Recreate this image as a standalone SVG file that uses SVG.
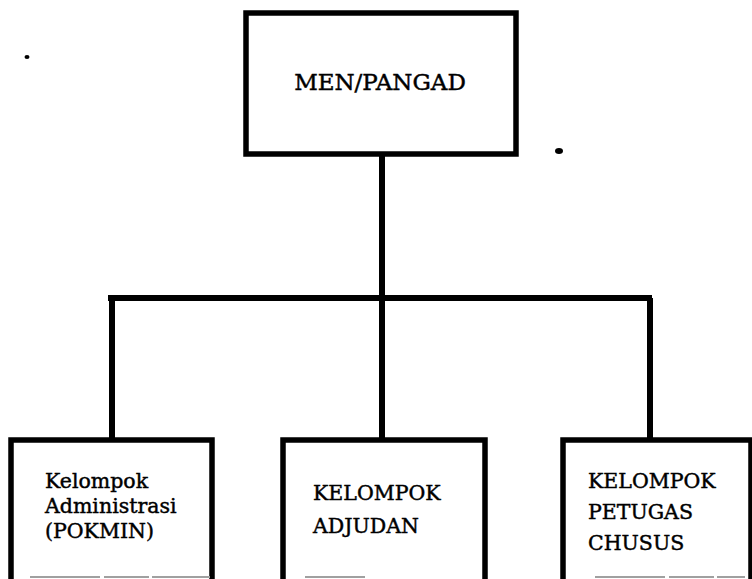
<svg xmlns="http://www.w3.org/2000/svg" width="752" height="579" viewBox="0 0 752 579">
  <style>
    .frame { fill: none; stroke: #000; stroke-width: 5.5; stroke-linejoin: miter; stroke-linecap: square; }
    .wire { fill: none; stroke: #000; stroke-width: 6; stroke-linecap: butt; }
    .edge { fill: none; stroke: #a0a0a0; stroke-width: 2; stroke-dasharray: 70 4 45 3; }
    .lbl { font-family: "DejaVu Serif", "Liberation Serif", serif; fill: #000; stroke: #000; stroke-width: 0.45; }
    .top { font-size: 23px; text-anchor: middle; }
    .sub { font-size: 20.5px; }
  </style>
  <rect width="752" height="579" fill="#fff"/>

  <!-- stray print marks -->
  <ellipse cx="27" cy="57" rx="2.5" ry="2" fill="#000"/>
  <ellipse cx="559" cy="151" rx="4" ry="3" fill="#000"/>

  <!-- connectors -->
  <g id="connectors">
    <line class="wire" x1="382" y1="154" x2="382" y2="440"/>
    <line class="wire" x1="108" y1="298" x2="652" y2="298"/>
    <line class="wire" x1="112" y1="298" x2="112" y2="440"/>
    <line class="wire" x1="650" y1="298" x2="650" y2="440"/>
  </g>

  <!-- head -->
  <g id="men-pangad">
    <rect class="frame" x="246" y="13" width="270" height="141"/>
    <text class="lbl top" x="380" y="90">MEN/PANGAD</text>
  </g>

  <!-- subordinate groups -->
  <g id="pokmin">
    <path class="frame" d="M11,579 V440 H212 V579"/>
    <line class="edge" x1="30" y1="577" x2="210" y2="577"/>
    <text class="lbl sub" x="45" y="488">Kelompok</text>
    <text class="lbl sub" x="45" y="513">Administrasi</text>
    <text class="lbl sub" x="45" y="538">(POKMIN)</text>
  </g>

  <g id="adjudan">
    <path class="frame" d="M283,579 V440 H485 V579"/>
    <line class="edge" x1="305" y1="577" x2="365" y2="577"/>
    <text class="lbl sub" x="313" y="500">KELOMPOK</text>
    <text class="lbl sub" x="313" y="533">ADJUDAN</text>
  </g>

  <g id="petugas-chusus">
    <path class="frame" d="M563,579 V440 H751 V579"/>
    <line class="edge" x1="595" y1="577" x2="745" y2="577"/>
    <text class="lbl sub" x="588" y="488">KELOMPOK</text>
    <text class="lbl sub" x="588" y="519">PETUGAS</text>
    <text class="lbl sub" x="588" y="550">CHUSUS</text>
  </g>
</svg>
